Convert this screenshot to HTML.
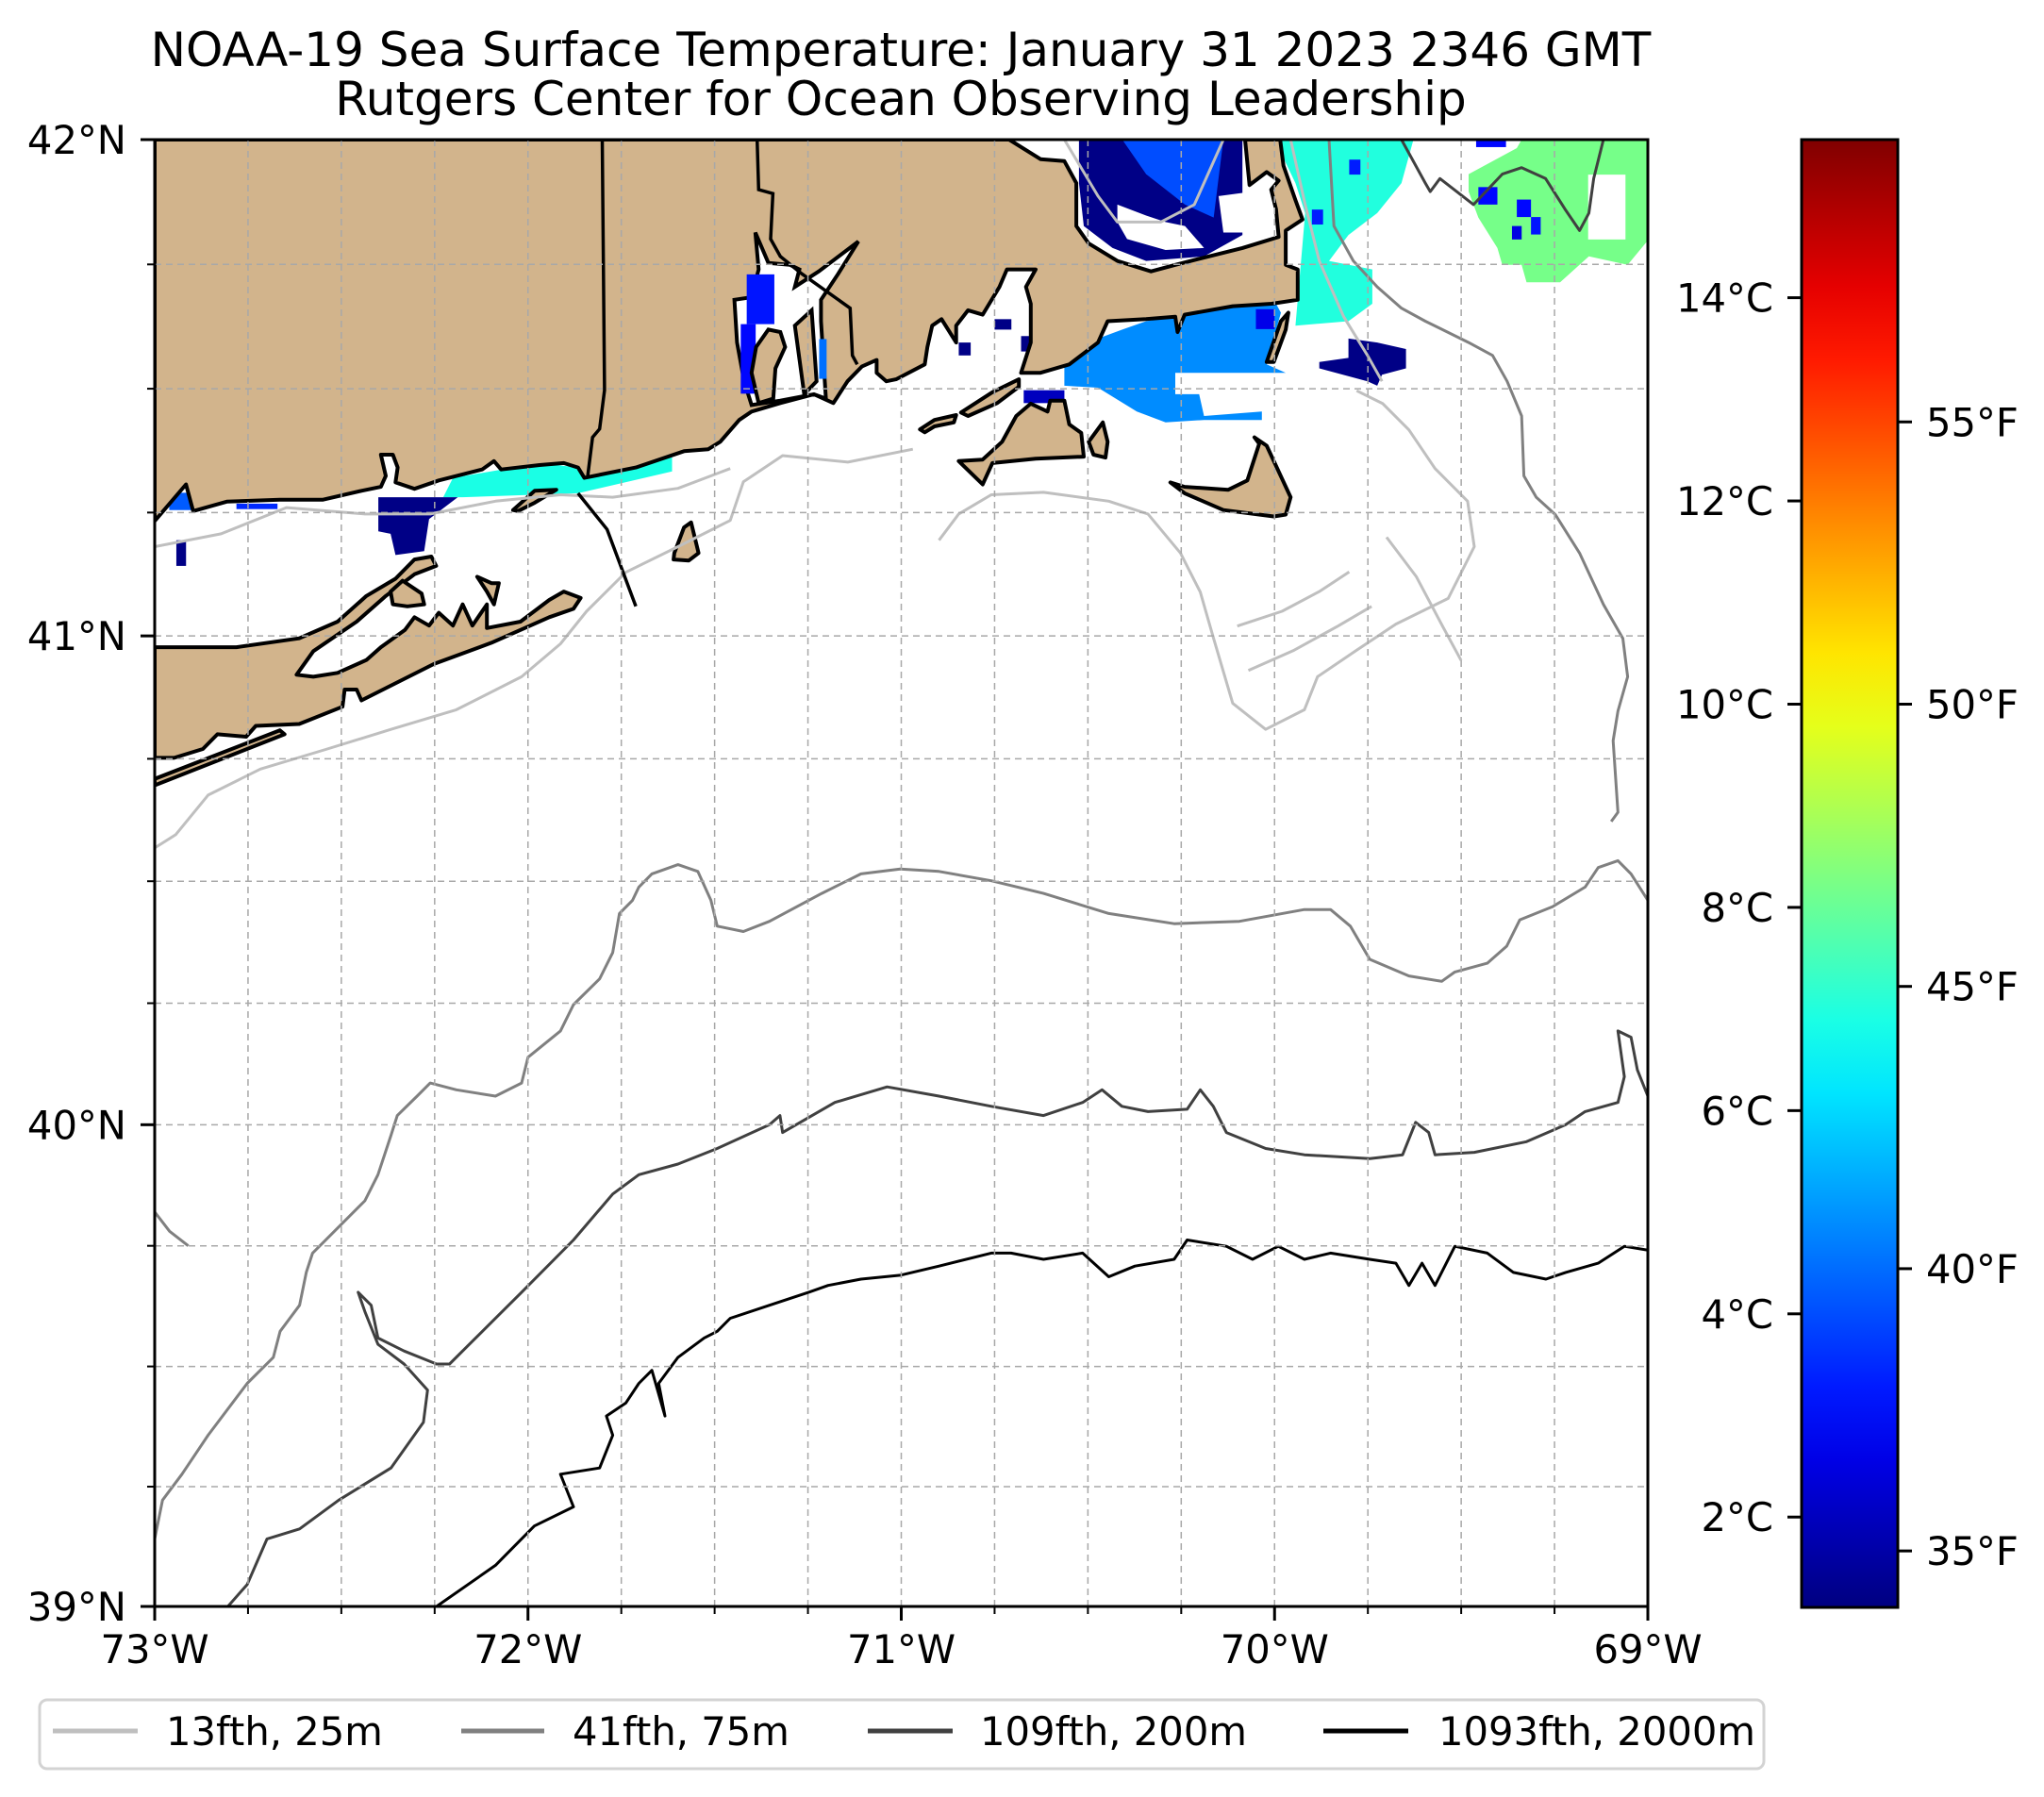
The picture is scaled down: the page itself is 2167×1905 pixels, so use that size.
<!DOCTYPE html>
<html><head><meta charset="utf-8"><title>NOAA-19 SST</title>
<style>
html,body{margin:0;padding:0;background:#fff;}
svg{display:block;font-family:"DejaVu Sans","Liberation Sans",sans-serif;}
</style></head>
<body>
<svg id="fig" width="2167" height="1905" viewBox="0 0 2167 1905" xmlns="http://www.w3.org/2000/svg">
  <defs>
    <clipPath id="axclip"><rect x="164" y="148" width="1583" height="1555"/></clipPath>
    <linearGradient id="jetgrad" x1="0" y1="1" x2="0" y2="0"></linearGradient>
  </defs>
  <rect x="0" y="0" width="2167" height="1905" fill="#fff"/>
  <text x="955" y="70" font-size="50" text-anchor="middle" fill="#000">NOAA-19 Sea Surface Temperature: January 31 2023 2346 GMT</text>
  <text x="955" y="122" font-size="50" text-anchor="middle" fill="#000">Rutgers Center for Ocean Observing Leadership</text>
  <g id="mapArea" clip-path="url(#axclip)">
    <g id="sstLayer"></g>
    <g id="landLayer"></g>
    <g id="bayLayer"></g>
    <g id="contourLayer"></g>
    <g id="borderLayer"></g>
    <g id="gridLayer"></g>
  </g>
  <rect x="164" y="148" width="1583" height="1555" fill="none" stroke="#000" stroke-width="3"/>
  <g id="axisLayer"></g>
  <rect x="1910" y="148" width="102" height="1556" fill="url(#jetgrad)" stroke="#000" stroke-width="3"/>
  <g id="cbarLayer"></g>
  <g>
    <rect x="42" y="1802" width="1828" height="73" rx="8" fill="#fff" stroke="#d3d3d3" stroke-width="3"/>
    <line x1="56" y1="1835" x2="146" y2="1835" stroke="#bfbfbf" stroke-width="5"/>
    <text x="176" y="1850" font-size="41.7">13fth, 25m</text>
    <line x1="489" y1="1835" x2="577" y2="1835" stroke="#808080" stroke-width="5"/>
    <text x="607" y="1850" font-size="41.7">41fth, 75m</text>
    <line x1="920" y1="1835" x2="1010" y2="1835" stroke="#404040" stroke-width="5"/>
    <text x="1039" y="1850" font-size="41.7">109fth, 200m</text>
    <line x1="1403" y1="1835" x2="1493" y2="1835" stroke="#000" stroke-width="5"/>
    <text x="1525" y="1850" font-size="41.7">1093fth, 2000m</text>
  </g>
</svg>
<script>
// ---------- data ----------
const lonTicks = [-73, -72, -71, -70, -69];
const latTicks = [39, 40, 41, 42];
const lonMinor = [-72.75,-72.5,-72.25,-71.75,-71.5,-71.25,-70.75,-70.5,-70.25,-69.75,-69.5,-69.25];
const latMinor = [39.25,39.5,39.75,40.25,40.5,40.75,41.25,41.5,41.75];
const cTicks = [2, 4, 6, 8, 10, 12, 14];
const fTicks = [35, 40, 45, 50, 55];
const tempMinC = 1.111, tempMaxC = 15.556;

const mainland = [[-73,42],[-70.711,42],[-70.627,41.961],[-70.563,41.957],[-70.531,41.913],[-70.531,41.827],[-70.498,41.792],[-70.421,41.757],[-70.331,41.736],[-70.266,41.749],[-70.176,41.766],[-70.086,41.783],[-69.989,41.805],[-69.996,41.861],[-70.009,41.900],[-69.989,41.918],[-70.021,41.935],[-70.067,41.909],[-70.079,42],[-69.985,42],[-69.976,41.948],[-69.944,41.879],[-69.925,41.840],[-69.970,41.818],[-69.970,41.749],[-69.938,41.740],[-69.938,41.679],[-70.008,41.671],[-70.112,41.666],[-70.241,41.649],[-70.260,41.614],[-70.266,41.645],[-70.344,41.640],[-70.447,41.636],[-70.473,41.593],[-70.550,41.549],[-70.627,41.532],[-70.679,41.532],[-70.653,41.593],[-70.653,41.671],[-70.666,41.705],[-70.640,41.740],[-70.717,41.740],[-70.737,41.705],[-70.782,41.649],[-70.821,41.658],[-70.853,41.627],[-70.853,41.593],[-70.892,41.640],[-70.917,41.627],[-70.930,41.584],[-70.937,41.549],[-71.014,41.519],[-71.040,41.515],[-71.066,41.532],[-71.066,41.558],[-71.105,41.545],[-71.144,41.515],[-71.182,41.471],[-71.234,41.489],[-71.324,41.471],[-71.401,41.454],[-71.434,41.437],[-71.485,41.393],[-71.517,41.378],[-71.582,41.374],[-71.711,41.341],[-71.849,41.320],[-71.866,41.341],[-71.904,41.350],[-71.969,41.346],[-72.072,41.337],[-72.091,41.354],[-72.123,41.337],[-72.239,41.315],[-72.304,41.298],[-72.355,41.311],[-72.349,41.341],[-72.362,41.367],[-72.394,41.367],[-72.381,41.324],[-72.394,41.302],[-72.446,41.294],[-72.549,41.276],[-72.665,41.276],[-72.807,41.272],[-72.897,41.253],[-72.916,41.307],[-73,41.233]];
const longIsland = [[-73,40.977],[-72.781,40.977],[-72.613,40.995],[-72.510,41.029],[-72.433,41.081],[-72.355,41.116],[-72.304,41.155],[-72.259,41.161],[-72.246,41.142],[-72.304,41.125],[-72.381,41.081],[-72.459,41.029],[-72.575,40.969],[-72.620,40.921],[-72.575,40.917],[-72.510,40.925],[-72.433,40.951],[-72.394,40.977],[-72.330,41.012],[-72.304,41.038],[-72.265,41.021],[-72.239,41.047],[-72.201,41.021],[-72.175,41.064],[-72.149,41.021],[-72.110,41.064],[-72.110,41.016],[-72.020,41.029],[-71.943,41.073],[-71.904,41.090],[-71.859,41.077],[-71.878,41.055],[-71.943,41.038],[-72.098,40.986],[-72.252,40.943],[-72.446,40.869],[-72.459,40.891],[-72.491,40.891],[-72.497,40.856],[-72.613,40.821],[-72.729,40.817],[-72.755,40.795],[-72.832,40.800],[-72.871,40.770],[-72.948,40.752],[-73,40.752]];
const islands = [
  [[-72.368,41.090],[-72.336,41.112],[-72.285,41.086],[-72.278,41.064],[-72.323,41.060],[-72.362,41.064]],
  [[-73,40.709],[-72.665,40.808],[-72.652,40.800],[-73,40.696]],
  [[-72.040,41.255],[-71.982,41.294],[-71.924,41.296],[-71.982,41.270],[-72.027,41.253]],
  [[-71.608,41.168],[-71.582,41.220],[-71.563,41.230],[-71.543,41.168],[-71.569,41.153],[-71.610,41.155]],
  [[-72.136,41.120],[-72.098,41.107],[-72.078,41.107],[-72.091,41.064],[-72.110,41.090]],
  [[-70.846,41.354],[-70.782,41.357],[-70.730,41.393],[-70.692,41.445],[-70.653,41.470],[-70.608,41.454],[-70.601,41.476],[-70.563,41.476],[-70.550,41.428],[-70.518,41.411],[-70.511,41.363],[-70.640,41.359],[-70.756,41.350],[-70.782,41.307]],
  [[-70.498,41.393],[-70.460,41.432],[-70.447,41.393],[-70.453,41.361],[-70.485,41.367]],
  [[-70.950,41.418],[-70.911,41.437],[-70.853,41.447],[-70.859,41.432],[-70.911,41.424],[-70.937,41.412]],
  [[-70.840,41.452],[-70.756,41.493],[-70.685,41.519],[-70.685,41.504],[-70.743,41.471],[-70.821,41.445]],
  [[-70.279,41.311],[-70.241,41.302],[-70.124,41.296],[-70.073,41.315],[-70.041,41.389],[-70.054,41.402],[-70.021,41.385],[-69.957,41.281],[-69.970,41.246],[-70.002,41.242],[-70.137,41.255],[-70.241,41.289]],
  [[-70.021,41.554],[-69.983,41.636],[-69.963,41.653],[-69.970,41.619],[-70.002,41.554]]
];
const narragansettBay = [[-71.401,41.467],[-71.421,41.515],[-71.440,41.593],[-71.447,41.679],[-71.401,41.684],[-71.382,41.740],[-71.391,41.814],[-71.356,41.753],[-71.298,41.749],[-71.273,41.740],[-71.285,41.705],[-71.221,41.736],[-71.115,41.796],[-71.169,41.731],[-71.215,41.679],[-71.215,41.636],[-71.202,41.480],[-71.234,41.489],[-71.324,41.476]];
const bayIslands = [
  [[-71.382,41.471],[-71.401,41.532],[-71.389,41.584],[-71.356,41.619],[-71.324,41.614],[-71.311,41.584],[-71.337,41.541],[-71.343,41.480]],
  [[-71.285,41.627],[-71.240,41.658],[-71.227,41.515],[-71.260,41.489]]
];
const borders = [
  [[-71.801,42],[-71.795,41.497],[-71.808,41.419],[-71.827,41.402],[-71.840,41.324]],
  [[-71.386,42],[-71.382,41.900],[-71.344,41.892],[-71.350,41.801],[-71.324,41.766],[-71.266,41.731],[-71.137,41.662],[-71.131,41.567],[-71.118,41.549]],
  [[-71.866,41.289],[-71.788,41.216],[-71.756,41.151],[-71.711,41.060]]
];
const contour25 = [
  [[-73,40.568],[-72.944,40.595],[-72.857,40.676],[-72.717,40.729],[-72.542,40.769],[-72.367,40.810],[-72.192,40.850],[-72.017,40.917],[-71.913,40.984],[-71.843,41.050],[-71.738,41.129],[-71.598,41.181],[-71.458,41.234],[-71.423,41.312],[-71.318,41.365],[-71.143,41.352],[-70.969,41.378]],
  [[-73,41.181],[-72.822,41.207],[-72.647,41.260],[-72.437,41.247],[-72.262,41.247],[-72.087,41.273],[-71.913,41.286],[-71.773,41.281],[-71.598,41.299],[-71.458,41.339]],
  [[-70.899,41.194],[-70.846,41.247],[-70.759,41.286],[-70.619,41.291],[-70.444,41.273],[-70.339,41.247],[-70.252,41.168],[-70.199,41.089],[-70.164,40.997],[-70.112,40.863],[-70.024,40.810],[-69.920,40.850],[-69.885,40.917],[-69.780,40.971],[-69.675,41.024],[-69.535,41.076],[-69.465,41.181],[-69.483,41.273],[-69.570,41.339],[-69.640,41.417],[-69.710,41.470],[-69.780,41.496]],
  [[-70.563,42],[-70.473,41.887],[-70.421,41.835],[-70.305,41.835],[-70.215,41.870],[-70.137,42]],
  [[-69.957,42],[-69.918,41.870],[-69.880,41.757],[-69.815,41.645],[-69.751,41.567],[-69.712,41.515]],
  [[-70.10,41.02],[-69.98,41.05],[-69.88,41.09],[-69.80,41.13]],
  [[-70.07,40.93],[-69.95,40.97],[-69.83,41.02],[-69.74,41.06]],
  [[-69.70,41.20],[-69.62,41.12],[-69.55,41.02],[-69.50,40.95]]
];
const contour75 = [
  [[-73,39.141],[-72.979,39.222],[-72.927,39.276],[-72.857,39.357],[-72.752,39.465],[-72.682,39.519],[-72.664,39.573],[-72.612,39.627],[-72.594,39.695],[-72.577,39.735],[-72.507,39.789],[-72.437,39.843],[-72.402,39.897],[-72.367,39.978],[-72.350,40.019],[-72.297,40.059],[-72.262,40.086],[-72.192,40.072],[-72.087,40.059],[-72.017,40.086],[-72.0,40.139],[-71.913,40.193],[-71.878,40.247],[-71.808,40.300],[-71.773,40.354],[-71.755,40.434],[-71.720,40.461],[-71.703,40.488],[-71.668,40.515],[-71.598,40.534],[-71.545,40.520],[-71.510,40.461],[-71.493,40.408],[-71.423,40.397],[-71.353,40.418],[-71.213,40.475],[-71.108,40.515],[-71.003,40.525],[-70.899,40.520],[-70.759,40.501],[-70.619,40.475],[-70.444,40.434],[-70.269,40.413],[-70.094,40.418],[-69.920,40.442],[-69.850,40.442],[-69.797,40.408],[-69.745,40.340],[-69.640,40.306],[-69.552,40.295],[-69.517,40.314],[-69.430,40.332],[-69.378,40.367],[-69.343,40.421],[-69.255,40.448],[-69.168,40.488],[-69.133,40.528],[-69.080,40.542],[-69.045,40.515],[-69,40.461]],
  [[-69.854,42],[-69.841,41.827],[-69.789,41.757],[-69.725,41.705],[-69.660,41.662],[-69.596,41.636],[-69.480,41.593],[-69.416,41.567],[-69.377,41.515],[-69.338,41.445],[-69.332,41.324],[-69.299,41.281],[-69.248,41.246],[-69.183,41.168],[-69.119,41.064],[-69.067,40.995],[-69.054,40.917],[-69.080,40.847],[-69.093,40.787],[-69.080,40.641],[-69.098,40.622]],
  [[-73,39.82],[-72.96,39.78],[-72.91,39.75]]
];
const contour200 = [
  [[-72.804,39.0],[-72.752,39.046],[-72.699,39.141],[-72.612,39.162],[-72.507,39.222],[-72.367,39.289],[-72.280,39.384],[-72.269,39.451],[-72.332,39.505],[-72.402,39.546],[-72.437,39.614],[-72.455,39.654],[-72.420,39.627],[-72.402,39.559],[-72.332,39.532],[-72.245,39.505],[-72.210,39.505],[-72.157,39.546],[-72.017,39.654],[-71.878,39.762],[-71.773,39.857],[-71.703,39.897],[-71.598,39.919],[-71.493,39.951],[-71.353,40.0],[-71.325,40.019],[-71.318,39.984],[-71.178,40.046],[-71.038,40.078],[-70.899,40.059],[-70.759,40.038],[-70.619,40.019],[-70.514,40.046],[-70.462,40.072],[-70.409,40.038],[-70.339,40.027],[-70.234,40.032],[-70.199,40.072],[-70.164,40.038],[-70.129,39.984],[-70.024,39.951],[-69.920,39.938],[-69.745,39.930],[-69.657,39.938],[-69.622,40.005],[-69.587,39.984],[-69.570,39.938],[-69.465,39.943],[-69.325,39.965],[-69.220,40.0],[-69.168,40.027],[-69.080,40.046],[-69.063,40.099],[-69.080,40.193],[-69.045,40.180],[-69.028,40.113],[-69.0,40.059]],
  [[-69.660,42],[-69.596,41.913],[-69.583,41.896],[-69.557,41.922],[-69.467,41.870],[-69.390,41.931],[-69.338,41.944],[-69.274,41.922],[-69.222,41.861],[-69.183,41.818],[-69.158,41.853],[-69.145,41.922],[-69.119,42]]
];
const contour2000 = [
  [[-72.245,39.0],[-72.087,39.086],[-71.983,39.168],[-71.878,39.208],[-71.913,39.276],[-71.808,39.289],[-71.773,39.357],[-71.790,39.397],[-71.738,39.424],[-71.703,39.465],[-71.668,39.492],[-71.633,39.397],[-71.650,39.465],[-71.598,39.519],[-71.528,39.559],[-71.493,39.573],[-71.458,39.600],[-71.353,39.627],[-71.248,39.654],[-71.196,39.668],[-71.108,39.681],[-71.003,39.689],[-70.899,39.708],[-70.759,39.735],[-70.706,39.735],[-70.619,39.722],[-70.514,39.735],[-70.444,39.686],[-70.374,39.708],[-70.269,39.722],[-70.234,39.762],[-70.129,39.749],[-70.059,39.722],[-69.990,39.749],[-69.920,39.722],[-69.850,39.735],[-69.745,39.722],[-69.675,39.714],[-69.640,39.668],[-69.605,39.714],[-69.570,39.668],[-69.517,39.749],[-69.430,39.735],[-69.360,39.695],[-69.273,39.681],[-69.220,39.695],[-69.133,39.714],[-69.063,39.749],[-69.0,39.741]]
];
// SST patches: polygon vertices (lon, lat) and temperature in deg C
const sstPolys = [
  [[-72.201,41.320],[-71.969,41.350],[-71.866,41.341],[-71.614,41.367],[-71.614,41.333],[-71.866,41.289],[-72.175,41.281],[-72.227,41.281]],
  [[-72.401,41.281],[-72.188,41.281],[-72.265,41.237],[-72.278,41.172],[-72.355,41.164],[-72.368,41.207],[-72.401,41.212]],
  [[-70.524,42],[-70.086,42],[-70.086,41.809],[-70.189,41.766],[-70.344,41.757],[-70.434,41.783],[-70.511,41.827],[-70.524,41.913]],
  [[-70.408,42],[-70.137,42],[-70.163,41.844],[-70.240,41.870],[-70.344,41.931]],
  [[-69.983,42],[-69.628,42],[-69.660,41.913],[-69.725,41.853],[-69.802,41.809],[-69.854,41.757],[-69.738,41.740],[-69.738,41.671],[-69.802,41.636],[-69.944,41.627],[-69.931,41.740],[-69.918,41.853],[-69.944,41.913],[-69.983,41.974]],
  [[-70.563,41.554],[-70.473,41.601],[-70.408,41.619],[-70.344,41.636],[-70.266,41.645],[-70.112,41.666],[-69.996,41.671],[-69.983,41.653],[-70.021,41.549],[-69.970,41.532],[-70.202,41.532],[-70.266,41.532],[-70.266,41.489],[-70.202,41.489],[-70.189,41.445],[-70.034,41.454],[-70.034,41.437],[-70.189,41.437],[-70.292,41.432],[-70.369,41.454],[-70.473,41.502],[-70.563,41.506]],
  [[-69.802,41.601],[-69.725,41.593],[-69.648,41.580],[-69.648,41.541],[-69.712,41.528],[-69.725,41.506],[-69.751,41.515],[-69.880,41.541],[-69.880,41.554],[-69.802,41.562]],
  [[-69.480,41.931],[-69.351,41.983],[-69.338,42],[-68.997,42],[-68.997,41.801],[-69.054,41.749],[-69.158,41.766],[-69.235,41.714],[-69.325,41.714],[-69.338,41.749],[-69.390,41.749],[-69.403,41.783],[-69.454,41.844],[-69.480,41.896]]
];
const sstPolyTemps = [6.9, 1.2, 1.2, 4.0, 7.0, 4.9, 1.2, 8.2];
// small rectangular pixel clusters: [lonW, latS, lonE, latN]
const sstRects = [
  [-72.781,41.257,-72.671,41.268],[-72.961,41.255,-72.897,41.29],[-72.942,41.142,-72.916,41.194],
  [-70.750,41.619,-70.705,41.640],[-70.679,41.575,-70.653,41.606],[-70.846,41.567,-70.814,41.593],
  [-70.672,41.471,-70.563,41.497],[-70.05,41.62,-70.00,41.66],
  [-69.454,41.870,-69.403,41.905],[-69.351,41.845,-69.313,41.880],[-69.364,41.800,-69.338,41.827],[-69.313,41.810,-69.287,41.845],[-69.46,41.985,-69.38,42],
  [-69.90,41.83,-69.87,41.86],[-69.80,41.93,-69.77,41.96]
];
const sstRectTemps = [3.5, 4.2, 1.2, 1.2, 1.2, 1.2, 2.0, 2.6, 3.0, 3.0, 2.5, 3.2, 3.0, 3.3, 3.3];
const bayRects = [[-71.414,41.63,-71.340,41.73],[-71.43,41.49,-71.39,41.63],[-71.22,41.52,-71.20,41.60]];
const bayRectTemps = [3.2, 3.0, 4.5];
const whitePolys = [
  [[-70.421,41.870],[-70.344,41.848],[-70.292,41.835],[-70.240,41.827],[-70.189,41.783],[-70.292,41.779],[-70.395,41.801],[-70.421,41.835]],
  [[-70.150,41.887],[-70.060,41.896],[-70.009,41.814],[-70.137,41.814]],
  [[-69.16,41.80],[-69.06,41.80],[-69.06,41.93],[-69.16,41.93]]
];

// ---------- scales ----------
const X0 = 164, X1 = 1747, Y0 = 148, Y1 = 1703;
function merc(lat){ const r = lat*Math.PI/180; return Math.log(Math.tan(Math.PI/4 + r/2)); }
function xScale(lon){ return X0 + (lon - (-73)) / 4 * (X1 - X0); }
function yScale(lat){ return Y0 + (Y1 - Y0) * (merc(42) - merc(lat)) / (merc(42) - merc(39)); }
const CB_TOP = 148, CB_BOT = 1704;
function cbY(tc){ return CB_BOT - (tc - tempMinC) / (tempMaxC - tempMinC) * (CB_BOT - CB_TOP); }
function jet(v){
  v = Math.max(0, Math.min(1, v));
  const c = t => Math.round(255*Math.max(0, Math.min(1, t)));
  return `rgb(${c(1.5-Math.abs(4*v-3))},${c(1.5-Math.abs(4*v-2))},${c(1.5-Math.abs(4*v-1))})`;
}
function tempColor(tc){ return jet((tc - tempMinC)/(tempMaxC - tempMinC)); }
const NS = 'http://www.w3.org/2000/svg';
function mk(tag, parent){ const e = document.createElementNS(NS, tag); parent.appendChild(e); return e; }
function pathD(pts, close){
  return pts.map((p,i)=>(i?'L':'M')+xScale(p[0]).toFixed(1)+','+yScale(p[1]).toFixed(1)).join('') + (close?'Z':'');
}

// ---------- colorbar gradient ----------
const grad = document.getElementById('jetgrad');
for (let i = 0; i <= 20; i++){
  const s = mk('stop', grad);
  s.setAttribute('offset', (i/20).toString());
  s.setAttribute('stop-color', jet(i/20));
}

// ---------- SST ----------
const sstL = document.getElementById('sstLayer');
sstPolys.forEach((poly, i) => {
  const p = mk('path', sstL);
  p.setAttribute('d', pathD(poly, true));
  p.setAttribute('fill', tempColor(sstPolyTemps[i]));
  
  
});
whitePolys.forEach(poly => {
  const p = mk('path', sstL);
  p.setAttribute('d', pathD(poly, true));
  p.setAttribute('fill', '#fff');
  
  
});
sstRects.forEach((r, i) => {
  const e = mk('rect', sstL);
  e.setAttribute('x', xScale(r[0])); e.setAttribute('y', yScale(r[3]));
  e.setAttribute('width', xScale(r[2]) - xScale(r[0])); e.setAttribute('height', yScale(r[1]) - yScale(r[3]));
  e.setAttribute('fill', tempColor(sstRectTemps[i]));
  
  
});

// ---------- land ----------
const landL = document.getElementById('landLayer');
[mainland, longIsland].concat(islands).forEach(poly => {
  const p = mk('path', landL);
  p.setAttribute('d', pathD(poly, true));
  p.setAttribute('fill', '#d2b48c');
  p.setAttribute('stroke', '#000');
  p.setAttribute('stroke-width', '4');
  p.setAttribute('stroke-linejoin', 'round');
  
  
});
const bayL = document.getElementById('bayLayer');
const bay = mk('path', bayL);
bay.setAttribute('d', pathD(narragansettBay, true));
bay.setAttribute('fill', '#fff');
bay.setAttribute('stroke', '#000');
bay.setAttribute('stroke-width', '4');


bayRects.forEach((r, i) => {
  const e = mk('rect', bayL);
  e.setAttribute('x', xScale(r[0])); e.setAttribute('y', yScale(r[3]));
  e.setAttribute('width', xScale(r[2]) - xScale(r[0])); e.setAttribute('height', yScale(r[1]) - yScale(r[3]));
  e.setAttribute('fill', tempColor(bayRectTemps[i]));
  
  
});
bayIslands.forEach(poly => {
  const p = mk('path', bayL);
  p.setAttribute('d', pathD(poly, true));
  p.setAttribute('fill', '#d2b48c');
  p.setAttribute('stroke', '#000');
  p.setAttribute('stroke-width', '4');
  
  
});

// ---------- contours ----------
const cL = document.getElementById('contourLayer');
const contourSets = [[contour25, '#bfbfbf', 'contour-25m'], [contour75, '#808080', 'contour-75m'], [contour200, '#404040', 'contour-200m'], [contour2000, '#000000', 'contour-2000m']];
contourSets.forEach(set => {
  set[0].forEach(line => {
    const p = mk('path', cL);
    p.setAttribute('d', pathD(line, false));
    p.setAttribute('fill', 'none');
    p.setAttribute('stroke', set[1]);
    p.setAttribute('stroke-width', '3');
    p.setAttribute('stroke-linejoin', 'round');
    
    
  });
});
const bL = document.getElementById('borderLayer');
borders.forEach(line => {
  const p = mk('path', bL);
  p.setAttribute('d', pathD(line, false));
  p.setAttribute('fill', 'none');
  p.setAttribute('stroke', '#000');
  p.setAttribute('stroke-width', '3.5');
  
  
});

// ---------- grid ----------
const gL = document.getElementById('gridLayer');
lonTicks.concat(lonMinor).forEach(lon => {
  const l = mk('line', gL);
  l.setAttribute('x1', xScale(lon)); l.setAttribute('x2', xScale(lon));
  l.setAttribute('y1', Y0); l.setAttribute('y2', Y1);
  l.setAttribute('stroke', '#a8a8a8'); l.setAttribute('stroke-width', '1.5'); l.setAttribute('stroke-dasharray', '7,5');
  
  
});
latTicks.concat(latMinor).forEach(lat => {
  const l = mk('line', gL);
  l.setAttribute('x1', X0); l.setAttribute('x2', X1);
  l.setAttribute('y1', yScale(lat)); l.setAttribute('y2', yScale(lat));
  l.setAttribute('stroke', '#a8a8a8'); l.setAttribute('stroke-width', '1.5'); l.setAttribute('stroke-dasharray', '7,5');
  
  
});

// ---------- axes ----------
const aL = document.getElementById('axisLayer');
lonTicks.forEach(lon => {
  const t = mk('line', aL);
  t.setAttribute('x1', xScale(lon)); t.setAttribute('x2', xScale(lon)); t.setAttribute('y1', Y1); t.setAttribute('y2', Y1 + 15);
  t.setAttribute('stroke', '#000'); t.setAttribute('stroke-width', '3');
  
  
  const tx = mk('text', aL);
  tx.setAttribute('x', xScale(lon)); tx.setAttribute('y', 1763); tx.setAttribute('font-size', '41.7'); tx.setAttribute('text-anchor', 'middle');
  tx.textContent = Math.abs(lon) + '\u00B0W';
  
  
});
lonMinor.forEach(lon => {
  const t = mk('line', aL);
  t.setAttribute('x1', xScale(lon)); t.setAttribute('x2', xScale(lon)); t.setAttribute('y1', Y1); t.setAttribute('y2', Y1 + 8);
  t.setAttribute('stroke', '#000'); t.setAttribute('stroke-width', '2');
  
  
});
latTicks.forEach(lat => {
  const t = mk('line', aL);
  t.setAttribute('x1', X0 - 15); t.setAttribute('x2', X0); t.setAttribute('y1', yScale(lat)); t.setAttribute('y2', yScale(lat));
  t.setAttribute('stroke', '#000'); t.setAttribute('stroke-width', '3');
  
  
  const tx = mk('text', aL);
  tx.setAttribute('x', 134); tx.setAttribute('y', yScale(lat) + 15); tx.setAttribute('font-size', '41.7'); tx.setAttribute('text-anchor', 'end');
  tx.textContent = lat + '\u00B0N';
  
  
});
latMinor.forEach(lat => {
  const t = mk('line', aL);
  t.setAttribute('x1', X0 - 8); t.setAttribute('x2', X0); t.setAttribute('y1', yScale(lat)); t.setAttribute('y2', yScale(lat));
  t.setAttribute('stroke', '#000'); t.setAttribute('stroke-width', '2');
  
  
});

// ---------- colorbar ticks ----------
const cbL = document.getElementById('cbarLayer');
cTicks.forEach(c => {
  const y = cbY(c);
  const t = mk('line', cbL);
  t.setAttribute('x1', 1895); t.setAttribute('x2', 1910); t.setAttribute('y1', y); t.setAttribute('y2', y);
  t.setAttribute('stroke', '#000'); t.setAttribute('stroke-width', '3');
  
  
  const tx = mk('text', cbL);
  tx.setAttribute('x', 1880); tx.setAttribute('y', y + 15); tx.setAttribute('font-size', '41.7'); tx.setAttribute('text-anchor', 'end');
  tx.textContent = c + '\u00B0C';
  
  
});
fTicks.forEach(f => {
  const y = cbY((f - 32) * 5 / 9);
  const t = mk('line', cbL);
  t.setAttribute('x1', 2012); t.setAttribute('x2', 2027); t.setAttribute('y1', y); t.setAttribute('y2', y);
  t.setAttribute('stroke', '#000'); t.setAttribute('stroke-width', '3');
  
  
  const tx = mk('text', cbL);
  tx.setAttribute('x', 2042); tx.setAttribute('y', y + 15); tx.setAttribute('font-size', '41.7'); tx.setAttribute('text-anchor', 'start');
  tx.textContent = f + '\u00B0F';
  
  
});
</script>
</body></html>
